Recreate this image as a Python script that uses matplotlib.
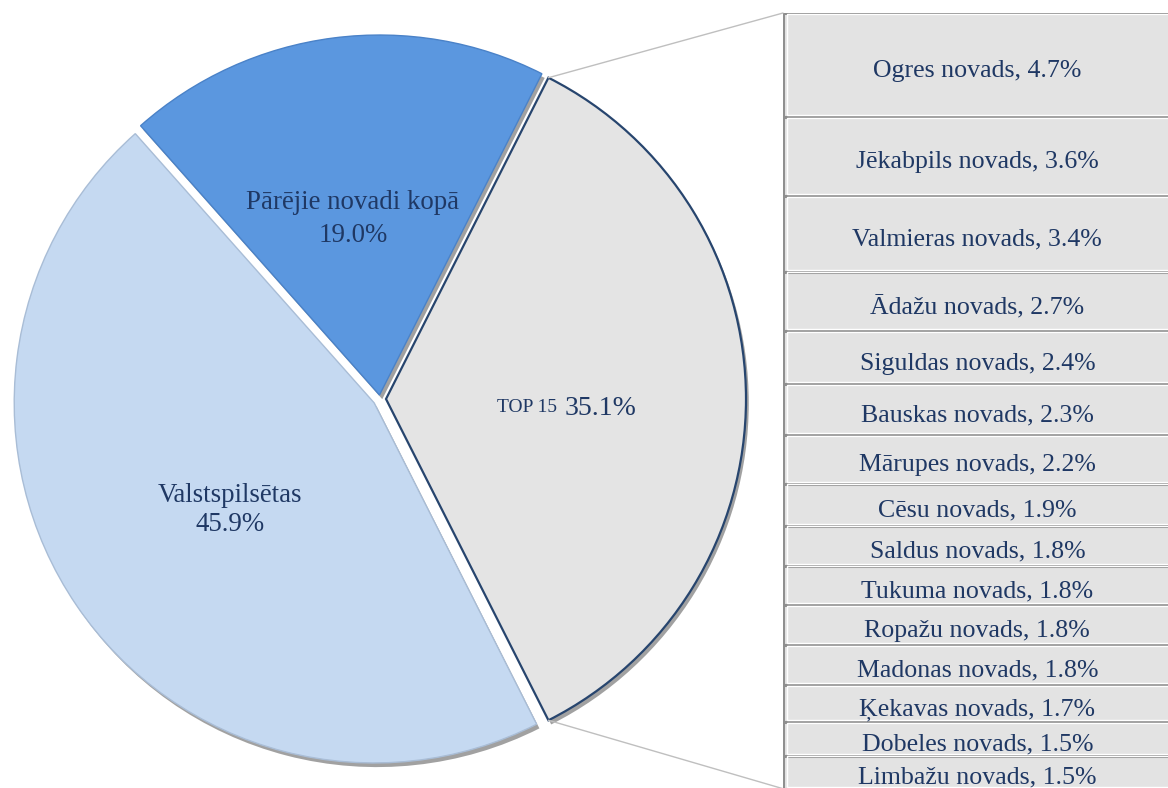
import numpy as np
import matplotlib.pyplot as plt
import matplotlib.patheffects as pe
from matplotlib.patches import ConnectionPatch

plt.rcParams['font.family'] = ['Liberation Serif', 'DejaVu Serif']

# pie data
pie_labels = ['TOP 15', 'Pārējie novadi kopā', 'Valstspilsētas']
pie_values = [35.1, 19.0, 45.9]
pie_colors = ['#e4e4e4', '#5b97df', '#c5d9f1']

# top 15 breakdown
top_names = ['Ogres novads', 'Jēkabpils novads', 'Valmieras novads', 'Ādažu novads',
             'Siguldas novads', 'Bauskas novads', 'Mārupes novads', 'Cēsu novads',
             'Saldus novads', 'Tukuma novads', 'Ropažu novads', 'Madonas novads',
             'Ķekavas novads', 'Dobeles novads', 'Limbažu novads']
top_values = [4.7, 3.6, 3.4, 2.7, 2.4, 2.3, 2.2, 1.9, 1.8, 1.8, 1.8, 1.8, 1.7, 1.5, 1.5]

txt_color = '#1f3864'
W, H = 1168, 788

fig = plt.figure(figsize=(W / 100, H / 100), dpi=100)
ax = fig.add_axes([0, 0, 1, 1])

R = 360
cx, cy = 380, H - 399
start = -pie_values[0] / 100 * 360 / 2
# explode is in data units (pixels here)
wedges, _ = ax.pie(pie_values, colors=pie_colors, startangle=start, counterclock=True,
                   center=(cx, cy), radius=R, explode=[6, 4, 7],
                   wedgeprops=dict(linewidth=0))
shadow = [pe.SimplePatchShadow(offset=(2, -3), shadow_rgbFace='#555555', alpha=0.55), pe.Normal()]
for w in wedges:
    w.set_path_effects(shadow)
wedges[0].set_edgecolor('#27456e')
wedges[0].set_linewidth(1.6)
wedges[1].set_edgecolor('#4a82c8')
wedges[1].set_linewidth(1.0)
wedges[2].set_edgecolor('#a9bdd6')
wedges[2].set_linewidth(1.0)

ax.set_xlim(0, W)
ax.set_ylim(0, H)
ax.set_aspect('equal')
ax.axis('off')

# pie labels
ax.text(353, H - 219, f'{pie_labels[1]}\n{pie_values[1]:.1f}%', ha='center', va='center',
        fontsize=19.4, color=txt_color, linespacing=1.4)
ax.text(230, H - 510, f'{pie_labels[2]}\n{pie_values[2]:.1f}%', ha='center', va='center',
        fontsize=19.4, color=txt_color, linespacing=1.25)
ax.text(562, H - 405, pie_labels[0] + ' ', ha='right', va='center_baseline', fontsize=14, color=txt_color)
ax.text(565, H - 405, f'{pie_values[0]:.1f}%', ha='left', va='center_baseline', fontsize=20, color=txt_color)

# stacked bar
total = sum(top_values)
bx = fig.add_axes([783 / W, (H - 13 - total * 22.1) / H, (W - 783) / W + 0.01, total * 22.1 / H])
bottoms = np.concatenate([[0], np.cumsum(top_values)[:-1]])
bx.bar(0, top_values, bottom=bottoms, width=1.0, color='#e3e3e3',
       edgecolor='#8f8f8f', linewidth=2.2, align='edge')
bx.bar(0.01, np.array(top_values) - 0.12, bottom=bottoms + 0.03, width=0.98, color='none',
       edgecolor='white', linewidth=1.0, align='edge')
for name, v, b in zip(top_names, top_values, bottoms):
    bx.text(0.49, b + v / 2 + 0.15, f'{name}, {v:.1f}%', ha='center', va='center_baseline',
            fontsize=18.6, color=txt_color)
bx.set_xlim(0, 1)
bx.set_ylim(total, 0)
bx.axis('off')

# connector lines from the TOP 15 wedge to the bar
w = wedges[0]
wcx, wcy = w.center
for ang, ypt in [(w.theta2, 0), (w.theta1, total)]:
    px = wcx + w.r * np.cos(np.radians(ang))
    py = wcy + w.r * np.sin(np.radians(ang))
    con = ConnectionPatch(xyA=(px, py), coordsA=ax.transData, xyB=(0, ypt), coordsB=bx.transData,
                          color='#bfbfbf', linewidth=1.0)
    fig.add_artist(con)

fig.savefig('out.png', dpi=100)
